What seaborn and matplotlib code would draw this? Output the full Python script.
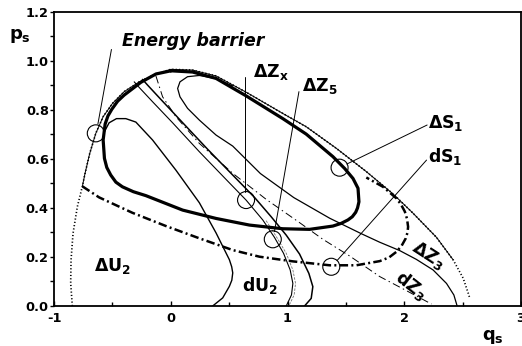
import matplotlib
matplotlib.use("Agg")
import matplotlib.pyplot as plt
import seaborn as sns

sns.set_style("ticks")
plt.rcParams["font.family"] = ["DejaVu Sans"]
plt.rcParams["mathtext.fontset"] = "custom"
plt.rcParams["mathtext.rm"] = "DejaVu Sans:bold"
plt.rcParams["mathtext.it"] = "DejaVu Sans:bold"
plt.rcParams["mathtext.bf"] = "DejaVu Sans:bold"
plt.rcParams["axes.unicode_minus"] = False
for key in ["text.color", "axes.labelcolor", "xtick.color", "ytick.color", "axes.edgecolor"]:
    plt.rcParams[key] = "black"

# ---- phase-space curves (q_s, p_s) ----
barrier_q = [-0.843, -0.857, -0.854, -0.837, -0.800, -0.757, -0.734, -0.694, -0.642,
             -0.579, -0.499, -0.399, -0.270, -0.127, 0.001, 0.187, 0.388, 0.645,
             0.960, 1.160, 1.418, 1.675, 1.904, 2.076, 2.276, 2.419, 2.505, 2.548, 2.562]
barrier_p = [0.000, 0.092, 0.188, 0.296, 0.405, 0.488, 0.541, 0.622, 0.704,
             0.772, 0.826, 0.874, 0.914, 0.946, 0.965, 0.962, 0.938, 0.872,
             0.785, 0.731, 0.643, 0.548, 0.457, 0.378, 0.280, 0.188, 0.113, 0.052, 0.031]

dS1_q = [0.001, 0.187, 0.388, 0.645, 0.960, 1.160, 1.389, 1.489, 1.561, 1.604, 1.612,
         1.600, 1.584, 1.555, 1.518, 1.460, 1.389, 1.189, 0.960, 0.674, 0.388, 0.102,
         -0.213, -0.320, -0.414, -0.470, -0.514, -0.548, -0.568, -0.579, -0.562,
         -0.538, -0.505, -0.455, -0.399, -0.256, -0.127, 0.001]
dS1_p = [0.959, 0.954, 0.928, 0.857, 0.764, 0.701, 0.609, 0.561, 0.520, 0.480, 0.425,
         0.400, 0.382, 0.364, 0.351, 0.337, 0.326, 0.3125, 0.315, 0.330, 0.357, 0.391,
         0.450, 0.466, 0.486, 0.505, 0.534, 0.565, 0.602, 0.677, 0.742,
         0.775, 0.802, 0.835, 0.860, 0.912, 0.946, 0.959]

dZ3_loop_q = [0.531, 0.388, 0.245, 0.144, 0.079, 0.059, 0.079, 0.144, 0.245, 0.388,
              0.531, 0.768, 1.054, 1.361, 1.627, 1.790, 1.961, 2.104, 2.247, 2.362,
              2.425, 2.453]
dZ3_loop_p = [0.897, 0.927, 0.940, 0.935, 0.914, 0.887, 0.853, 0.806, 0.758, 0.697,
              0.652, 0.540, 0.442, 0.358, 0.296, 0.260, 0.226, 0.190, 0.147, 0.092,
              0.045, 0.000]

zx_q = [-0.313, -0.270, -0.156, 0.016, 0.245, 0.474, 0.645, 0.788, 0.888, 0.966,
        1.023, 1.046, 1.034, 0.989]
zx_p = [0.914, 0.891, 0.833, 0.747, 0.629, 0.516, 0.432, 0.351, 0.280, 0.215,
        0.147, 0.092, 0.045, 0.000]

zx_thin_q = [0.817, 0.908, 0.989, 1.046, 1.069, 1.057, 1.011]
zx_thin_p = [0.348, 0.280, 0.215, 0.147, 0.092, 0.045, 0.000]

z5_q = [-0.242, -0.199, -0.084, 0.087, 0.316, 0.545, 0.717, 0.860, 0.989, 1.103,
        1.183, 1.217, 1.203, 1.146]
z5_p = [0.924, 0.901, 0.842, 0.755, 0.639, 0.527, 0.443, 0.364, 0.289, 0.212,
        0.133, 0.079, 0.031, 0.000]

dz3_q = [-0.127, -0.070, 0.044, 0.245, 0.531, 0.817, 1.103, 1.303, 1.532, 1.790,
         2.019, 2.233]
dz3_p = [0.938, 0.853, 0.772, 0.663, 0.541, 0.435, 0.340, 0.272, 0.204, 0.120,
         0.0625, 0.008]

ds1_q = [-0.757, -0.614, -0.328, -0.041, 0.245, 0.531, 0.760, 1.046, 1.361, 1.589,
         1.790, 1.870, 1.933, 1.978, 2.013, 2.028, 2.033, 2.024, 2.005, 1.972, 1.933,
         1.818, 1.675]
ds1_p = [0.488, 0.443, 0.380, 0.326, 0.276, 0.228, 0.201, 0.182, 0.166, 0.166,
         0.183, 0.198, 0.221, 0.246, 0.276, 0.300, 0.323, 0.355, 0.385, 0.414, 0.439,
         0.486, 0.524]

du2_q = [-0.568, -0.528, -0.465, -0.385, -0.299, -0.156, 0.044, 0.245, 0.388, 0.502,
         0.522, 0.531, 0.523, 0.502, 0.445, 0.359]
du2_p = [0.711, 0.747, 0.764, 0.764, 0.750, 0.677, 0.554, 0.421, 0.298, 0.189,
         0.160, 0.135, 0.105, 0.080, 0.033, 0.000]

# marked points and their labels
circle_q = [-0.642, 0.645, 0.874, 1.446, 1.375]
circle_p = [0.704, 0.432, 0.272, 0.564, 0.160]

labels = ["Energy barrier", r"$\Delta Z_x$", r"$\Delta Z_5$", r"$\Delta S_1$", r"$dS_1$",
          r"$\Delta U_2$", r"$dU_2$"]
label_q = [-0.414, 0.702, 1.120, 2.202, 2.202, -0.657, 0.614]
label_p = [1.061, 0.932, 0.878, 0.727, 0.586, 0.144, 0.061]

leader_start_q = [-0.508, 0.639, 1.098, 2.196, 2.191]
leader_start_p = [1.046, 0.935, 0.874, 0.738, 0.595]
leader_end_q = [-0.624, 0.639, 0.888, 1.509, 1.424]
leader_end_p = [0.742, 0.466, 0.303, 0.579, 0.185]

xticks = [-1, 0, 1, 2, 3]
xtick_labels = ["-1", "0", "1", "2", "3"]
yticks = [0.0, 0.2, 0.4, 0.6, 0.8, 1.0, 1.2]
ytick_labels = ["0.0", "0.2", "0.4", "0.6", "0.8", "1.0", "1.2"]

fig = plt.figure(figsize=(5.22, 3.46), dpi=100)
ax = fig.add_axes([54 / 522, 40 / 346, 467 / 522, 294.3 / 346])


def curve(q, p, color="black", **kw):
    sns.lineplot(x=q, y=p, sort=False, estimator=None, ax=ax, color=color,
                 legend=False, solid_joinstyle="round", solid_capstyle="round", **kw)


# energy barrier (dotted) and the outer thin orbit that follows it
curve(barrier_q, barrier_p, lw=1.2, linestyle=(0, (0.7, 1.3)), zorder=2)
curve(barrier_q[5:26], barrier_p[5:26], lw=0.7, zorder=3)

# main thick orbit
curve(dS1_q, dS1_p, lw=2.3, zorder=4)

# thin orbits
curve(dZ3_loop_q, dZ3_loop_p, lw=0.9, zorder=3)
curve(zx_q, zx_p, lw=0.8, zorder=3)
curve(zx_thin_q, zx_thin_p, color="0.45", lw=0.6, linestyle=(0, (3, 1.5)), zorder=3)
curve(z5_q, z5_p, lw=1.1, zorder=3)
curve(du2_q, du2_p, lw=1.0, zorder=3)

# dash-dot orbits
curve(dz3_q, dz3_p, lw=0.7, linestyle=(0, (8, 3.5, 1.5, 3.5)), zorder=3)
curve(ds1_q, ds1_p, lw=1.8, linestyle=(0, (3.4, 1.3, 0.8, 1.3)), zorder=3)

# marker circles and leader lines
sns.scatterplot(x=circle_q, y=circle_p, s=150, marker="o", facecolor="none",
                edgecolor="black", linewidth=0.8, ax=ax, legend=False, zorder=6)
for q0, p0, q1, p1 in zip(leader_start_q, leader_start_p, leader_end_q, leader_end_p):
    ax.plot([q0, q1], [p0, p1], color="black", lw=0.7, zorder=5)

# text labels
ax.text(label_q[0], label_p[0], labels[0], fontsize=12.5, fontweight="bold",
        fontstyle="italic", ha="left", va="baseline")
for txt, q, p in zip(labels[1:], label_q[1:], label_p[1:]):
    ax.text(q, p, txt, fontsize=12.5, ha="left", va="baseline")
ax.text(2.202, 0.208, r"$\Delta Z_3$", fontsize=12.5, rotation=-33,
        ha="center", va="center", rotation_mode="anchor")
ax.text(2.056, 0.086, r"$dZ_3$", fontsize=12.5, rotation=-38,
        ha="center", va="center", rotation_mode="anchor")

# axis names
ax.text(-1.386, 1.088, r"$p_s$", fontsize=13, ha="left", va="baseline", clip_on=False)
ax.text(2.663, -0.137, r"$q_s$", fontsize=13, ha="left", va="baseline", clip_on=False)

ax.set_xlim(-1, 3)
ax.set_ylim(0, 1.2)
ax.set_xticks(xticks)
ax.set_xticklabels(xtick_labels, fontweight="bold", fontsize=9.3)
ax.set_xticks([-0.5, 0.5, 1.5, 2.5], minor=True)
ax.set_yticks(yticks)
ax.set_yticklabels(ytick_labels, fontweight="bold", fontsize=9.3)
ax.set_yticks([0.1, 0.3, 0.5, 0.7, 0.9, 1.1], minor=True)
ax.tick_params(axis="x", which="major", direction="in", length=3.6, width=1, pad=4)
ax.tick_params(axis="x", which="minor", direction="in", length=3, width=1)
ax.tick_params(axis="y", which="major", direction="out", length=3.2, width=1, pad=0.5)
ax.tick_params(axis="y", which="minor", direction="out", length=2.6, width=1)
ax.set_xlabel("")
ax.set_ylabel("")
for side in ["left", "bottom", "top", "right"]:
    ax.spines[side].set_visible(True)
    ax.spines[side].set_linewidth(1.3)
    ax.spines[side].set_color("black")

fig.savefig("out.png", dpi=100, facecolor="white")
